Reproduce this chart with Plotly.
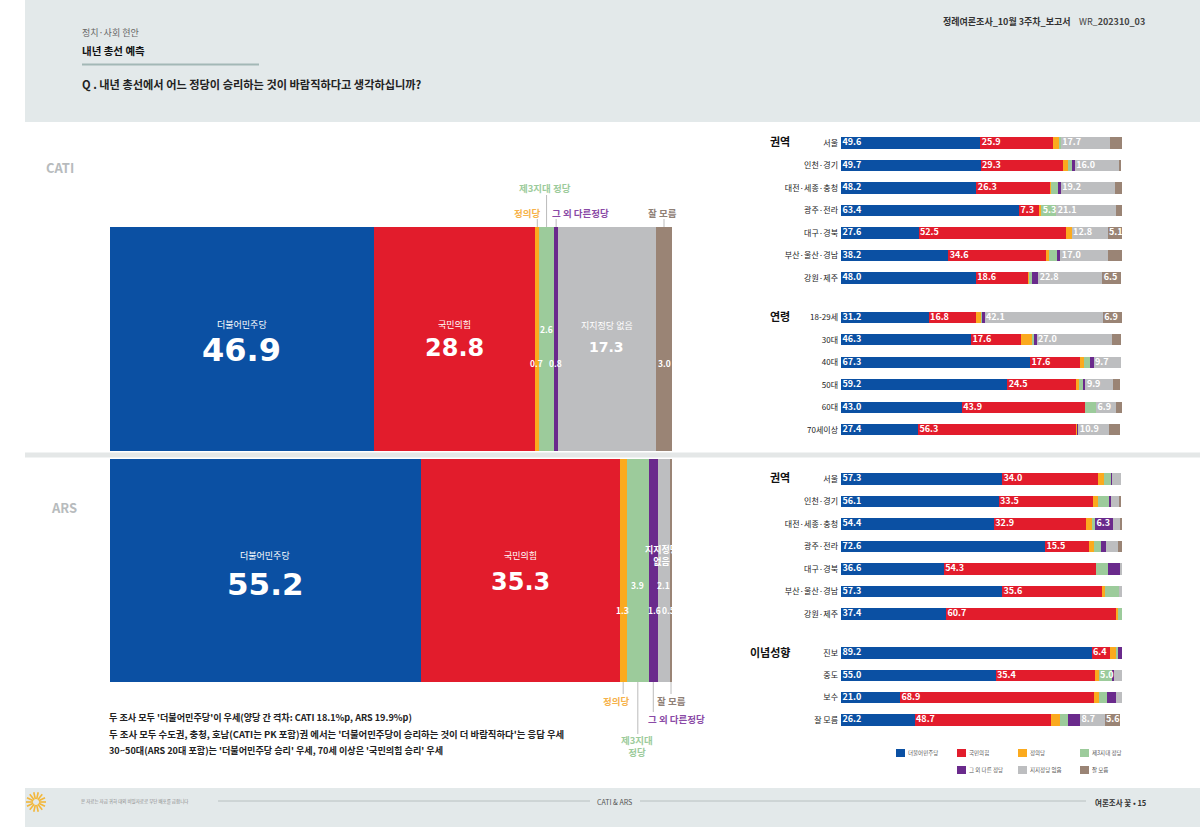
import math
import plotly.graph_objects as go

W, H = 1200, 827
FONT = "Noto Sans CJK KR"
NUM = "DejaVu Sans"

parties = ["더불어민주당", "국민의힘", "정의당", "제3지대 정당", "그 외 다른 정당", "지지정당 없음", "잘 모름"]
colors = ["#0b50a3", "#e21c2c", "#fbaa1e", "#9ccb9b", "#6a2a8c", "#bdbec0", "#9a8475"]

cati_total = [46.9, 28.8, 0.7, 2.6, 0.8, 17.3, 3.0]
ars_total = [55.2, 35.3, 1.3, 3.9, 1.6, 2.1, 0.5]

cati_region_labels = ["서울", "인천·경기", "대전·세종·충청", "광주·전라", "대구·경북", "부산·울산·경남", "강원·제주"]
cati_region = [
    [49.6, 25.9, 2.3, 0.4, 0.0, 17.7, 4.1],
    [49.7, 29.3, 1.7, 1.4, 1.1, 16.0, 0.6],
    [48.2, 26.3, 0.3, 2.3, 1.1, 19.2, 2.8],
    [63.4, 7.3, 0.6, 5.3, 0.0, 21.1, 2.2],
    [27.6, 52.5, 2.0, 0.0, 0.0, 12.8, 5.1],
    [38.2, 34.6, 1.2, 2.9, 1.2, 17.0, 4.9],
    [48.0, 18.6, 0.3, 1.0, 2.3, 22.8, 6.5],
]
cati_age_labels = ["18-29세", "30대", "40대", "50대", "60대", "70세이상"]
cati_age = [
    [31.2, 16.8, 2.1, 0.4, 0.6, 42.1, 6.9],
    [46.3, 17.6, 4.1, 1.0, 0.6, 27.0, 2.9],
    [67.3, 17.6, 1.6, 2.0, 1.4, 9.7, 0.0],
    [59.2, 24.5, 1.0, 1.3, 1.0, 9.9, 2.5],
    [43.0, 43.9, 0.0, 3.9, 0.0, 6.9, 2.3],
    [27.4, 56.3, 0.3, 0.0, 0.5, 10.9, 4.0],
]
ars_region_labels = cati_region_labels
ars_region = [
    [57.3, 34.0, 2.3, 2.5, 0.3, 3.4, 0.0],
    [56.1, 33.5, 2.0, 3.6, 1.0, 2.6, 0.9],
    [54.4, 32.9, 1.9, 1.2, 6.3, 2.6, 0.7],
    [72.6, 15.5, 1.9, 2.7, 1.5, 4.3, 1.5],
    [36.6, 54.3, 0.0, 4.2, 4.2, 0.7, 0.0],
    [57.3, 35.6, 1.0, 4.9, 0.0, 1.2, 0.0],
    [37.4, 60.7, 0.4, 1.5, 0.0, 0.0, 0.0],
]
ars_ideology_labels = ["진보", "중도", "보수", "잘 모름"]
ars_ideology = [
    [89.2, 6.4, 2.6, 0.4, 1.4, 0.0, 0.0],
    [55.0, 35.4, 1.3, 5.0, 0.4, 2.9, 0.0],
    [21.0, 68.9, 1.8, 3.0, 3.3, 2.0, 0.0],
    [26.2, 48.7, 3.0, 2.9, 4.3, 8.7, 5.6],
]

notes = [
    "두 조사 모두 '더불어민주당'이 우세(양당 간 격차: CATI 18.1%p, ARS 19.9%p)",
    "두 조사 모두 수도권, 충청, 호남(CATI는 PK 포함)권 에서는 '더불어민주당이 승리하는 것이 더 바람직하다'는 응답 우세",
    "30~50대(ARS 20대 포함)는 '더불어민주당 승리' 우세, 70세 이상은 '국민의힘 승리' 우세",
]


def px(x):
    return x / W


def py(y):
    return 1 - y / H


fig = go.Figure()
shapes, annos = [], []


def rect(x0, y0, x1, y1, color):
    shapes.append(dict(type="rect", xref="paper", yref="paper", x0=px(x0), x1=px(x1),
                       y0=py(y1), y1=py(y0), fillcolor=color, line_width=0, layer="below"))


def line(x0, y0, x1, y1, color, w=1, layer="above"):
    shapes.append(dict(type="line", xref="paper", yref="paper", x0=px(x0), x1=px(x1),
                       y0=py(y0), y1=py(y1), line=dict(color=color, width=w), layer=layer))


def text(x, y, s, size, color="#222222", anchor="left", bold=False, family=FONT):
    if anchor == "left":
        x -= 2
    annos.append(dict(xref="paper", yref="paper", x=px(x), y=py(y),
                      text=f"<b>{s}</b>" if bold else s, showarrow=False, xanchor=anchor,
                      yanchor="middle", align="center",
                      font=dict(family=family, size=size, color=color)))


# page furniture
PANEL = "#e3e9ea"
rect(25, 0, W, 122, PANEL)
rect(25, 788, W, H, PANEL)
text(82, 33, "정치·사회 현안", 9, "#666666")
text(82, 51, "내년 총선 예측", 10.5, "#111111", bold=True)
line(82, 64.5, 259, 64.5, "#a3b8b6", 2)
text(82, 84, "Q . 내년 총선에서 어느 정당이 승리하는 것이 바람직하다고 생각하십니까?", 11.2, "#222222", bold=True)
text(943, 21, "정례여론조사_10월 3주차_보고서", 9, "#333333", bold=True)
text(1079, 21, "WR_<b>202310_03</b>", 9, "#444444")
text(46, 167, "CATI", 13, "#b7bbbd", bold=True)
text(51, 507, "ARS", 13, "#b7bbbd", bold=True)

# footer
text(81, 801, "본 자료는 자금 귀하 대외 비밀자료로 무단 배포를 금합니다", 4.5, "#888888")
line(218, 801, 590, 801, "#b8c0c0", 1)
line(640, 801, 1086, 801, "#b8c0c0", 1)
text(597, 802, "CATI & ARS", 7, "#555555")
text(1095, 802, "여론조사 꽃 • 15", 7.5, "#333333", bold=True)
for k in range(14):
    a = 2 * math.pi * k / 14
    line(36 + 3 * math.cos(a), 802 + 3 * math.sin(a), 36 + 10 * math.cos(a), 802 + 10 * math.sin(a), "#f3b73a", 1.6)

# large bars
big = [("x", "y", cati_total), ("x2", "y2", ars_total)]
for xa, ya, vals in big:
    for name, color, v in zip(parties, colors, vals):
        fig.add_trace(go.Bar(x=[v], y=[0.5], width=[1], orientation="h", name=name, xaxis=xa, yaxis=ya,
                             marker=dict(color=color, line_width=0), showlegend=False, hoverinfo="x+name"))

fig.update_layout(
    xaxis=dict(domain=[px(110), px(673)], range=[0, 100.2], visible=False, fixedrange=True),
    yaxis=dict(domain=[py(451), py(227)], range=[0, 1], visible=False, fixedrange=True),
    xaxis2=dict(domain=[px(110), px(673)], range=[0, 100.0], visible=False, anchor="y2", fixedrange=True),
    yaxis2=dict(domain=[py(682), py(459)], range=[0, 1], visible=False, anchor="x2", fixedrange=True),
)


def xpix(vals, i, xmax):
    return 110 + (sum(vals[:i]) + vals[i] / 2) / xmax * 563


WHITE = "#ffffff"
cx = lambda i: xpix(cati_total, i, 100.2)
ax = lambda i: xpix(ars_total, i, 100.0)

# CATI large labels
text(cx(0), 324.5, parties[0], 9, WHITE, "center")
text(cx(0), 350, f"{cati_total[0]}", 32, WHITE, "center", True, NUM)
text(cx(1), 324.5, parties[1], 9, WHITE, "center")
text(cx(1), 348, f"{cati_total[1]}", 24, WHITE, "center", True, NUM)
text(cx(5), 325, parties[5], 9, WHITE, "center")
text(cx(5), 347, f"{cati_total[5]}", 14, WHITE, "center", True, NUM)
text(cx(3), 329, f"{cati_total[3]}", 8.5, WHITE, "center", bold=True)
text(cx(2) - 1, 363, f"{cati_total[2]}", 8.5, WHITE, "center", bold=True)
text(cx(4) - 1, 363, f"{cati_total[4]}", 8.5, WHITE, "center", bold=True)
text(cx(6), 363, f"{cati_total[6]}", 8.5, WHITE, "center", bold=True)
# CATI callouts
line(cx(2), 219, cx(2), 227, "#bbbbbb")
line(cx(3), 195, cx(3), 227, "#bbbbbb")
line(cx(4), 219, cx(4), 227, "#bbbbbb")
line(cx(6), 219, cx(6), 227, "#bbbbbb")
text(527, 213, "정의당", 9.5, "#f6b24a", "center", bold=True)
text(545, 188, "제3지대 정당", 9.5, "#9ccb9b", "center", bold=True)
text(580, 213, "그 외 다른정당", 9.5, "#8a4aa6", "center", bold=True)
text(662, 213, "잘 모름", 9.5, "#8f8076", "center", bold=True)

# ARS large labels
text(ax(0), 555, parties[0], 9, WHITE, "center")
text(ax(0), 584, f"{ars_total[0]}", 31, WHITE, "center", True, NUM)
text(ax(1), 555, parties[1], 9, WHITE, "center")
text(ax(1), 582, f"{ars_total[1]}", 24, WHITE, "center", True, NUM)
text(662, 555, "지지정당<br>없음", 9, WHITE, "center", bold=True)
text(ax(3), 585, f"{ars_total[3]}", 8.5, WHITE, "center", bold=True)
text(ax(5), 585, f"{ars_total[5]}", 8.5, WHITE, "center", bold=True)
text(ax(2) - 1, 610, f"{ars_total[2]}", 8.5, WHITE, "center", bold=True)
text(ax(4) + 1, 610, f"{ars_total[4]}", 8.5, WHITE, "center", bold=True)
text(ax(6) - 3, 610, f"{ars_total[6]}", 8.5, WHITE, "center", bold=True)
# ARS callouts
line(ax(2), 682, ax(2), 694, "#bbbbbb")
line(ax(3), 682, ax(3), 734, "#bbbbbb")
line(ax(4), 682, ax(4), 712, "#bbbbbb")
line(ax(6), 682, ax(6), 694, "#bbbbbb")
text(616, 701, "정의당", 9.5, "#f6b24a", "center", bold=True)
text(637, 746, "제3지대<br>정당", 9.5, "#9ccb9b", "center", bold=True)
text(676, 719, "그 외 다른정당", 9.5, "#8a4aa6", "center", bold=True)
text(671, 701, "잘 모름", 9.5, "#8f8076", "center", bold=True)

# divider drawn over the large bars
line(25, 455, W, 455, "#e4e7e7", 5)

# notes
for yy, s, fs in zip([717, 734, 750], notes, [9.1, 9.4, 9.1]):
    text(109, yy, s, fs, "#222222", bold=True)

# small panels
panels = [
    ("x3", "y3", cati_region_labels, cati_region, 132, 289, "권역", 770, 141),
    ("x4", "y4", cati_age_labels, cati_age, 306, 441, "연령", 770, 316),
    ("x5", "y5", ars_region_labels, ars_region, 468, 625, "권역", 770, 477),
    ("x6", "y6", ars_ideology_labels, ars_ideology, 642, 731, "이념성향", 750, 652),
]
LABEL_INSET = 0.5  # gap between a segment's left edge and its value label, in axis units
layout_axes = {}
for n, (xa, ya, labels, rows, top, bot, title, tx, ty) in enumerate(panels):
    for i, (name, color) in enumerate(zip(parties, colors)):
        fig.add_trace(go.Bar(
            x=[r[i] for r in rows], y=labels, orientation="h", name=name, xaxis=xa, yaxis=ya,
            showlegend=False, marker=dict(color=color, line_width=0), hoverinfo="x+y+name",
        ))
    # value labels drawn above every stacked segment, starting at the segment's left edge
    lx, ly, lt = [], [], []
    for lab, r in zip(labels, rows):
        for i, v in enumerate(r):
            if v >= 5:
                lx.append(sum(r[:i]) + LABEL_INSET)
                ly.append(lab)
                lt.append(f"{v:.1f}")
    fig.add_trace(go.Scatter(
        x=lx, y=ly, text=lt, mode="text", textposition="middle right", xaxis=xa, yaxis=ya,
        showlegend=False, hoverinfo="skip", cliponaxis=False,
        textfont=dict(family=FONT, size=9, color="#ffffff", weight="bold"),
    ))
    k = n + 3
    layout_axes[f"xaxis{k}"] = dict(domain=[px(841), px(1122)], range=[0, 100], visible=False,
                                    anchor=ya, fixedrange=True)
    layout_axes[f"yaxis{k}"] = dict(domain=[py(bot), py(top)], autorange="reversed", anchor=xa,
                                    type="category", showline=False, showgrid=False, ticks="",
                                    ticklabelstandoff=2, fixedrange=True,
                                    tickfont=dict(family=FONT, size=8, color="#222222"))
    text(tx, ty, title, 11, "#111111", bold=True)

# legend key
leg_pos = [(896, 753), (957, 753), (1018, 753), (1080, 753), (957, 770), (1018, 770), (1080, 770)]
for (lx, ly), name, color in zip(leg_pos, parties, colors):
    rect(lx, ly - 4, lx + 9, ly + 4, color)
    text(lx + 12, ly, name, 5.5, "#555555")

fig.update_layout(
    width=W, height=H, autosize=False, barmode="stack", bargap=0.49,
    margin=dict(l=0, r=0, t=0, b=0), paper_bgcolor="#ffffff", plot_bgcolor="rgba(0,0,0,0)",
    font=dict(family=FONT), showlegend=False, shapes=shapes, annotations=annos, **layout_axes,
)
fig.write_html("out.html", post_script="document.body.style.margin='0';", config=dict(displayModeBar=False))
